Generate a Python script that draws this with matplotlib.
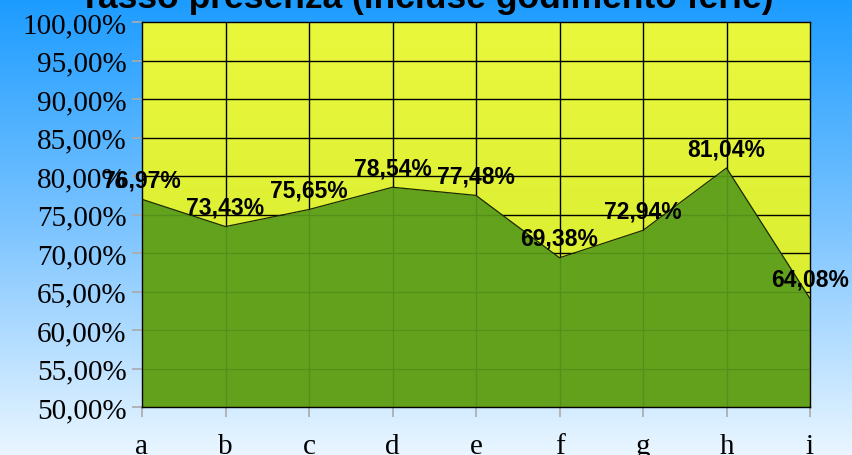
import numpy as np
import matplotlib.pyplot as plt
from matplotlib.colors import LinearSegmentedColormap
from matplotlib.ticker import FuncFormatter

# Data
categories = ['a', 'b', 'c', 'd', 'e', 'f', 'g', 'h', 'i']
presenza = [76.97, 73.43, 75.65, 78.54, 77.48, 69.38, 72.94, 81.04, 64.08]
title = 'Tasso presenza (incluse godimento ferie)'

fig = plt.figure(figsize=(8.52, 4.56), dpi=100)

# Blue gradient background of the figure
bg = fig.add_axes([0, 0, 1, 1], zorder=0)
bg_cmap = LinearSegmentedColormap.from_list('bg', ['#1c9cff', '#7cc4ff', '#eaf6ff'])
bg.imshow(np.linspace(0, 1, 256).reshape(-1, 1), aspect='auto', cmap=bg_cmap,
          extent=[0, 1, 0, 1])
bg.axis('off')

ax = fig.add_axes([142 / 852, 1 - 408 / 456, 668 / 852, 385 / 456], zorder=1)
x = np.arange(len(categories))

# Yellow gradient plot area
plot_cmap = LinearSegmentedColormap.from_list('pa', ['#d4ea2e', '#eaf83c'])
ax.imshow(np.linspace(0, 1, 256).reshape(-1, 1), aspect='auto', cmap=plot_cmap,
          extent=[0, len(categories) - 1, 100, 50], zorder=0)

# Grid lines
for yv in range(55, 100, 5):
    ax.axhline(yv, color='black', linewidth=1.0, zorder=1)
for xv in x[1:-1]:
    ax.axvline(xv, color='black', linewidth=1.0, zorder=1)

# Area
ax.fill_between(x, 50, presenza, color='#5a9c1c', alpha=0.93, linewidth=0, zorder=2)
ax.plot(x, presenza, color='#1a2a00', linewidth=0.9, zorder=3)

for xi, v in zip(x, presenza):
    ax.annotate(f'{v:.2f}%'.replace('.', ','), (xi, v), xytext=(0, 14),
                textcoords='offset points', ha='center', va='center',
                fontsize=16.5, fontweight='bold', family='Liberation Sans',
                color='black', zorder=5, annotation_clip=False)

ax.set_xlim(0, len(categories) - 1)
ax.set_ylim(50, 100)
ax.set_xticks(x)
ax.set_xticklabels(categories)
ax.set_yticks(range(50, 101, 5))
ax.yaxis.set_major_formatter(FuncFormatter(lambda v, p: f'{v:.2f}%'.replace('.', ',')))
ax.tick_params(axis='both', colors='#aaaaaa', length=7, width=1.2,
               labelcolor='black', labelsize=21, labelfontfamily='Liberation Serif')
ax.tick_params(axis='y', pad=4)
ax.tick_params(axis='x', pad=12)
for s in ax.spines.values():
    s.set_color('black')
    s.set_linewidth(1.0)
    s.set_zorder(4)

fig.text(0.5, 1 - 8 / 456, title, ha='center', va='baseline', fontsize=25.5,
         fontweight='bold', family='Liberation Sans', color='black')

fig.savefig('out.png', dpi=100)
